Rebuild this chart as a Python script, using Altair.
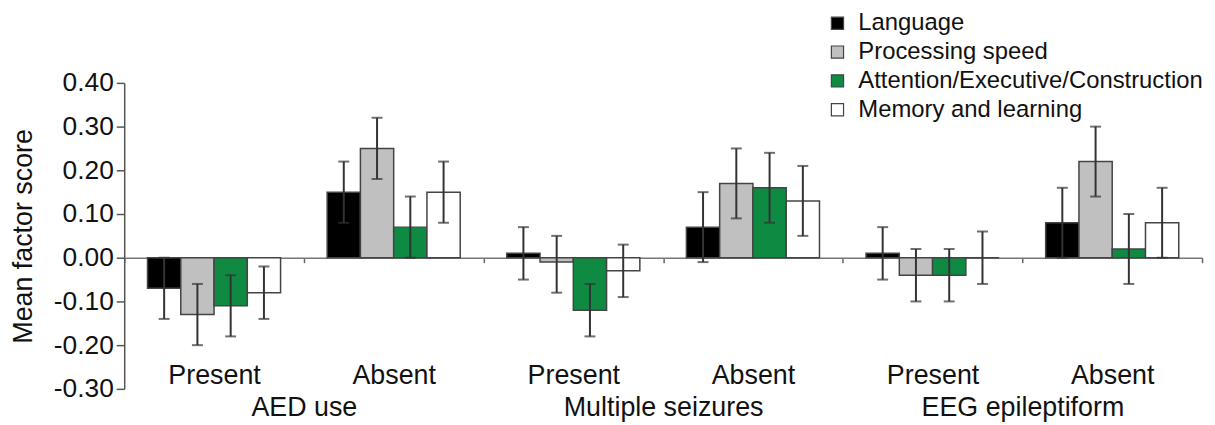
import altair as alt
import pandas as pd

groups = ["AED use", "Multiple seizures", "EEG epileptiform"]
levels = ["Present", "Absent"]
series = ["Language", "Processing speed", "Attention/Executive/Construction", "Memory and learning"]
colors = ["#000000", "#c0c0c0", "#0f8a43", "#ffffff"]

# values per (group, level), in series order
means = [
    [-0.07, -0.13, -0.11, -0.08],
    [0.15, 0.25, 0.07, 0.15],
    [0.01, -0.01, -0.12, -0.03],
    [0.07, 0.17, 0.16, 0.13],
    [0.01, -0.04, -0.04, 0.00],
    [0.08, 0.22, 0.02, 0.08],
]
err_lo = [
    [-0.14, -0.20, -0.18, -0.14],
    [0.08, 0.18, 0.00, 0.08],
    [-0.05, -0.08, -0.18, -0.09],
    [-0.01, 0.09, 0.08, 0.05],
    [-0.05, -0.10, -0.10, -0.06],
    [0.00, 0.14, -0.06, 0.00],
]
err_hi = [
    [0.00, -0.06, -0.04, -0.02],
    [0.22, 0.32, 0.14, 0.22],
    [0.07, 0.05, -0.06, 0.03],
    [0.15, 0.25, 0.24, 0.21],
    [0.07, 0.02, 0.02, 0.06],
    [0.16, 0.30, 0.10, 0.16],
]
y_ticks = [-0.3, -0.2, -0.1, 0.0, 0.1, 0.2, 0.3, 0.4]

rows = []
cats = []
k = 0
for g in groups:
    for lv in levels:
        cat = g + "|" + lv
        cats.append(cat)
        for j, s in enumerate(series):
            rows.append(dict(cat=cat, series=s, mean=means[k][j], lo=err_lo[k][j], hi=err_hi[k][j]))
        k += 1
df = pd.DataFrame(rows)
gdf = pd.DataFrame({"group": groups})

FONT = "Liberation Sans"

yaxis = alt.Axis(
    values=y_ticks,
    labelExpr="replace(format(datum.value, '.2f'), '\u2212', '-')",
    title="Mean factor score",
    titleFontSize=27, titleFontWeight="normal", titleColor="#111", titlePadding=16,
    labelFontSize=26.5, labelColor="#111", labelPadding=3,
    tickSize=8, tickColor="#555", domainColor="#555", domainWidth=1.5, tickWidth=1.5,
    grid=False,
)
yscale = alt.Scale(domain=[-0.3, 0.4], nice=False, zero=False)
xscale = alt.Scale(paddingInner=0, paddingOuter=0)
xoff = alt.XOffset("series:N", sort=series, scale=alt.Scale(paddingInner=0, paddingOuter=0.7))

axis_levels = alt.Axis(
    orient="bottom", offset=-132, title=None,
    labelExpr="split(datum.label, '|')[1]", labelAngle=0,
    labelFontSize=27, labelColor="#111", labelPadding=101, labelLimit=400,
    domainColor="#777", domainWidth=1.5,
    ticks=True, tickBand="extent", tickSize=5, tickColor="#666", tickWidth=1.5,
)
axis_groups = alt.Axis(
    orient="bottom", offset=0, title=None,
    labelAngle=0, labelLimit=400, labelOverlap=False,
    labelFontSize=27, labelColor="#111", labelPadding=6,
    domain=False, ticks=False, tickSize=0,
)

base = alt.Chart(df)
xcat = alt.X("cat:N", sort=cats, scale=xscale, axis=axis_levels)

bars = base.mark_bar(stroke="#444", strokeWidth=1.5).encode(
    x=xcat,
    xOffset=xoff,
    y=alt.Y("mean:Q", scale=yscale, axis=yaxis),
    color=alt.Color(
        "series:N", sort=series,
        scale=alt.Scale(domain=series, range=colors),
        legend=alt.Legend(
            title=None, orient="none", legendX=706, legendY=-72,
            symbolType="square", symbolSize=150, symbolStrokeColor="#444", symbolStrokeWidth=1.2,
            labelFontSize=24, labelColor="#111", labelOffset=9, rowPadding=5,
            labelLimit=500,
        ),
    ),
)

rules = base.mark_rule(color="#333", strokeWidth=2).encode(
    x=xcat,
    xOffset=xoff,
    y=alt.Y("lo:Q", scale=yscale, axis=yaxis),
    y2="hi:Q",
)
cap_lo = base.mark_tick(color="#333", size=11, thickness=2, orient="horizontal").encode(
    x=xcat,
    xOffset=xoff,
    y=alt.Y("lo:Q", scale=yscale, axis=yaxis),
)
cap_hi = base.mark_tick(color="#333", size=11, thickness=2, orient="horizontal").encode(
    x=xcat,
    xOffset=xoff,
    y=alt.Y("hi:Q", scale=yscale, axis=yaxis),
)

group_layer = alt.Chart(gdf).mark_text(opacity=0).encode(
    x=alt.X("group:N", sort=groups, scale=alt.Scale(paddingInner=0, paddingOuter=0), axis=axis_groups),
    text="group:N",
)

chart = (
    alt.layer(alt.layer(bars, rules, cap_lo, cap_hi), group_layer)
    .resolve_scale(x="independent")
    .resolve_axis(x="independent")
    .properties(
        width=1085, height=308,
        autosize=alt.AutoSizeParams(type="none"),
        padding={"left": 117, "top": 74, "right": 5, "bottom": 35},
    )
    .configure(font=FONT)
    .configure_view(stroke=None)
)

chart.save("out.html", embed_options={"renderer": "svg", "actions": False})
